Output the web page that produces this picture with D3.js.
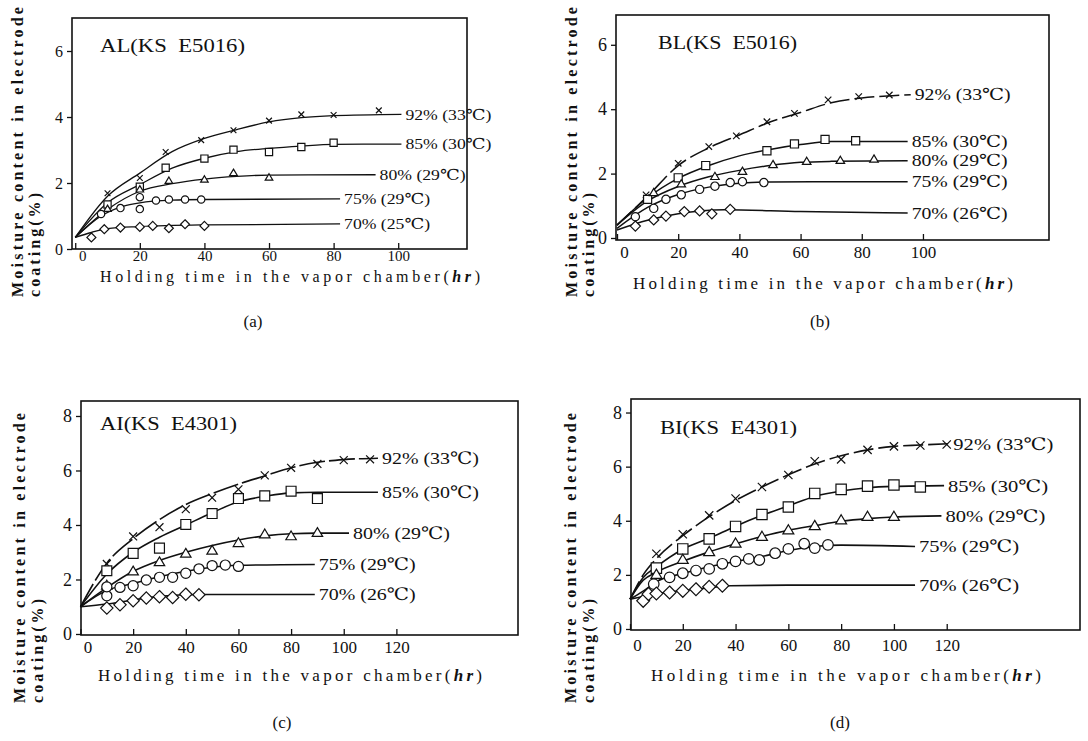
<!DOCTYPE html>
<html>
<head>
<meta charset="utf-8">
<script src="https://cdnjs.cloudflare.com/ajax/libs/d3/7.8.5/d3.min.js"></script>
<style>
  body { margin: 0; background: #fff; }
  svg text { font-family: "Liberation Serif", "DejaVu Serif", serif; fill: #111; }
</style>
</head>
<body>
<svg id="fig" width="1088" height="741"></svg>
<script>
// ---- data ----
const seriesNames  = ['92% (33℃)', '85% (30℃)', '80% (29℃)', '75% (29℃)', '70% (26℃)'];
const seriesNamesA = ['92% (33℃)', '85% (30℃)', '80% (29℃)', '75% (29℃)', '70% (25℃)'];
const panelTitles  = ['AL(KS  E5016)', 'BL(KS  E5016)', 'AI(KS  E4301)', 'BI(KS  E4301)'];
const panelCaptions = ['(a)', '(b)', '(c)', '(d)'];
const xTicksAB = [0, 20, 40, 60, 80, 100];
const xTicksCD = [0, 20, 40, 60, 80, 100, 120];
const yTicksAB = [0, 2, 4, 6];
const yTicksCD = [0, 2, 4, 6, 8];

// fitted curves, one list per series (92, 85, 80, 75, 70 %)
const curvesA = [
  [[0,0.35],[10,1.6],[20,2.3],[30,2.95],[40,3.35],[50,3.62],[60,3.85],[70,3.98],[80,4.04],[101,4.08]],
  [[0,0.35],[10,1.4],[20,1.95],[30,2.45],[40,2.75],[50,2.95],[60,3.05],[70,3.12],[80,3.17],[101,3.18]],
  [[0,0.35],[10,1.2],[20,1.75],[30,1.98],[40,2.12],[50,2.2],[60,2.24],[93,2.25]],
  [[0,0.35],[8,1.0],[15,1.3],[20,1.4],[30,1.48],[40,1.5],[82,1.52]],
  [[0,0.35],[5,0.5],[10,0.62],[20,0.68],[40,0.73],[82,0.76]]
];
const markersA = [
  [[10,1.69],[20,2.15],[28,2.94],[39,3.3],[49,3.6],[60,3.89],[70,4.08],[80,4.06],[94,4.2]],
  [[10,1.35],[20,1.89],[28,2.46],[40,2.74],[49,3.01],[60,2.94],[70,3.09],[80,3.22]],
  [[10,1.21],[20,1.8],[29,2.06],[40,2.1],[49,2.3],[60,2.16]],
  [[8,1.06],[14,1.24],[20,1.21],[20,1.57],[25,1.47],[29,1.5],[34,1.5],[39,1.5]],
  [[5,0.35],[9,0.6],[14,0.65],[20,0.67],[24,0.7],[29,0.63],[34,0.75],[40,0.7]]
];

const curvesB = [
  [[0,0.4],[10,1.3],[20,2.25],[30,2.8],[40,3.2],[50,3.6],[60,3.9],[70,4.2],[80,4.35],[90,4.42],[96,4.45]],
  [[0,0.4],[10,1.25],[20,1.85],[30,2.25],[40,2.55],[50,2.75],[60,2.9],[70,3.0],[95,3.0]],
  [[0,0.4],[10,1.15],[20,1.6],[30,1.9],[40,2.1],[50,2.25],[60,2.35],[70,2.38],[95,2.4]],
  [[0,0.3],[10,0.95],[20,1.35],[30,1.58],[40,1.7],[50,1.74],[95,1.75]],
  [[0,0.25],[10,0.55],[20,0.75],[35,0.88],[60,0.82],[95,0.78]]
];
const markersB = [
  [[9.5,1.34],[20,2.32],[30,2.84],[39,3.17],[49,3.61],[58,3.87],[69,4.29],[79,4.39],[89,4.44]],
  [[10,1.2],[20,1.87],[29,2.25],[49,2.71],[58,2.92],[68,3.06],[78,3.02]],
  [[12,1.4],[21,1.67],[32,1.9],[41,2.06],[51,2.27],[62,2.37],[73,2.4],[84,2.44]],
  [[6,0.66],[12,0.92],[16,1.2],[21,1.34],[27,1.51],[32,1.61],[37,1.72],[41,1.75],[48,1.72]],
  [[6,0.37],[12,0.56],[16,0.68],[22,0.82],[27,0.84],[31,0.75],[37,0.89]]
];

const curvesC = [
  [[0,1.0],[10,2.6],[20,3.5],[30,4.2],[40,4.75],[50,5.15],[60,5.5],[70,5.8],[80,6.1],[90,6.3],[100,6.4],[113,6.45]],
  [[0,1.0],[10,2.2],[20,3.0],[30,3.55],[40,4.0],[50,4.45],[60,4.85],[70,5.05],[80,5.18],[90,5.2],[113,5.2]],
  [[0,1.0],[10,1.7],[20,2.3],[30,2.7],[40,3.0],[50,3.25],[60,3.45],[70,3.6],[80,3.68],[90,3.7],[102,3.7]],
  [[0,1.0],[10,1.6],[20,1.85],[30,2.1],[40,2.3],[50,2.45],[60,2.52],[89,2.55]],
  [[0,1.0],[10,1.1],[20,1.25],[30,1.38],[45,1.45],[89,1.45]]
];
const markersC = [
  [[10,2.57],[20,3.58],[30,3.92],[40,4.58],[50,5.0],[60,5.31],[70,5.82],[80,6.1],[90,6.24],[100,6.38],[110,6.41]],
  [[10,2.32],[20,2.96],[30,3.15],[40,4.02],[50,4.42],[60,4.97],[70,5.07],[80,5.24],[90,4.97]],
  [[10,1.77],[20,2.29],[30,2.63],[40,2.94],[50,3.05],[60,3.33],[70,3.65],[80,3.58],[90,3.7]],
  [[10,1.4],[10,1.73],[15,1.71],[20,1.77],[25,1.98],[30,2.08],[35,2.08],[40,2.23],[45,2.39],[50,2.51],[55,2.53],[60,2.48]],
  [[10,0.95],[15,1.07],[20,1.22],[25,1.32],[30,1.37],[35,1.34],[40,1.46],[45,1.44]]
];

const curvesD = [
  [[0,1.1],[5,2.0],[10,2.6],[20,3.45],[30,4.15],[40,4.75],[50,5.25],[60,5.7],[70,6.1],[80,6.4],[90,6.62],[100,6.75],[110,6.8],[121,6.85]],
  [[0,1.1],[5,1.9],[10,2.3],[20,2.95],[30,3.35],[40,3.8],[50,4.2],[60,4.55],[70,4.9],[80,5.1],[90,5.22],[100,5.27],[119,5.3]],
  [[0,1.1],[5,1.8],[10,2.1],[20,2.5],[30,2.85],[40,3.15],[50,3.42],[60,3.65],[70,3.82],[80,3.98],[90,4.08],[100,4.14],[118,4.18]],
  [[0,1.1],[5,1.4],[10,1.75],[20,2.05],[30,2.3],[40,2.5],[50,2.68],[60,2.9],[70,3.05],[80,3.1],[108,3.05]],
  [[0,1.1],[5,1.2],[10,1.3],[20,1.42],[30,1.52],[38,1.6],[60,1.62],[108,1.62]]
];
const markersD = [
  [[10,2.78],[20,3.5],[30,4.2],[40,4.82],[50,5.25],[60,5.69],[70,6.2],[80,6.27],[90,6.62],[100,6.75],[110,6.78],[120,6.82]],
  [[10,2.25],[20,2.96],[30,3.33],[40,3.79],[50,4.23],[60,4.51],[70,5.01],[80,5.16],[90,5.28],[100,5.32],[110,5.25]],
  [[10,2.0],[20,2.55],[30,2.84],[40,3.15],[50,3.4],[60,3.64],[70,3.8],[80,4.01],[90,4.14],[100,4.14]],
  [[9,1.66],[15,1.91],[20,2.06],[25,2.16],[30,2.22],[35,2.41],[40,2.5],[45,2.59],[49,2.55],[55,2.8],[60,2.96],[66,3.15],[70,2.99],[75,3.11]],
  [[5,1.04],[7,1.29],[10,1.31],[15,1.35],[20,1.41],[25,1.47],[30,1.56],[35,1.6]]
];

// ---- layout of the four panels ----
const panels = [
  { box: [72, 18, 467, 249], xd: [-1, 121.3], yd: [0, 7], xt: xTicksAB, yt: yTicksAB,
    curves: curvesA, marks: markersA, names: seriesNamesA, title: panelTitles[0], cap: panelCaptions[0],
    titlePos: [100, 52, 145], capPos: [253, 327], xlab: [290, 282, 380, 16], ylab: [17, 34, 297],
    tickFont: 15, tickPad: 1, ms: 0.8, lw: 1.3, lab: 15, labLen: 86, dash92: null },
  { box: [616, 15, 1049, 240], xd: [-0.33, 141.2], yd: [-0.062, 6.925], xt: xTicksAB, yt: yTicksAB,
    curves: curvesB, marks: markersB, names: seriesNames, title: panelTitles[1], cap: panelCaptions[1],
    titlePos: [658, 49, 139], capPos: [820, 327], xlab: [823, 289, 380, 17], ylab: [571, 588, 297],
    tickFont: 17, tickPad: 6, ms: 0.9, lw: 1.5, lab: 16.5, labLen: 96, dash92: '20,5' },
  { box: [81, 401, 518, 635], xd: [0.19, 166.2], yd: [-0.037, 8.55], xt: xTicksCD, yt: yTicksCD,
    curves: curvesC, marks: markersC, names: seriesNames, title: panelTitles[2], cap: panelCaptions[2],
    titlePos: [100, 430, 137], capPos: [282, 728], xlab: [290, 681, 384, 17], ylab: [19, 37, 703],
    tickFont: 17, tickPad: 6, ms: 1.1, lw: 1.6, lab: 17, labLen: 97, dash92: '26,4' },
  { box: [631, 399, 1080, 630], xd: [0.38, 170.5], yd: [-0.037, 8.5], xt: xTicksCD, yt: yTicksCD,
    curves: curvesD, marks: markersD, names: seriesNames, title: panelTitles[3], cap: panelCaptions[3],
    titlePos: [660, 434, 137], capPos: [840, 728], xlab: [846, 681, 390, 17], ylab: [570, 588, 703],
    tickFont: 17, tickPad: 9, ms: 1.15, lw: 1.6, lab: 17, labLen: 100, dash92: '20,5' }
];

const svg = d3.select('#fig');

// marker path for each series: cross, square, triangle, circle, diamond
const markerPath = (k, s) => {
  const p = d3.path();
  if (k === 0) {
    const r = 3.6 * s;
    p.moveTo(-r, -r); p.lineTo(r, r); p.moveTo(-r, r); p.lineTo(r, -r);
  } else if (k === 1) {
    const r = 4.5 * s;
    p.rect(-r, -r, 2 * r, 2 * r);
  } else if (k === 2) {
    const r = 5 * s;
    p.moveTo(0, -r); p.lineTo(r * 0.95, r * 0.6); p.lineTo(-r * 0.95, r * 0.6); p.closePath();
  } else if (k === 3) {
    p.arc(0, 0, 4.6 * s, 0, 2 * Math.PI);
  } else {
    const r = 5.6 * s;
    p.moveTo(0, -r); p.lineTo(r, 0); p.lineTo(0, r); p.lineTo(-r, 0); p.closePath();
  }
  return p.toString();
};

panels.forEach((P) => {
  const [x0, y0, x1, y1] = P.box;
  const x = d3.scaleLinear().domain(P.xd).range([x0, x1]);
  const y = d3.scaleLinear().domain(P.yd).range([y1, y0]);
  const g = svg.append('g');

  // frame
  g.append('rect')
    .attr('x', x0).attr('y', y0).attr('width', x1 - x0).attr('height', y1 - y0)
    .attr('fill', 'none').attr('stroke', '#111').attr('stroke-width', 1.6);

  // bottom axis, ticks pointing inward
  const xa = g.append('g')
    .attr('transform', 'translate(0,' + y1 + ')')
    .call(d3.axisBottom(x).tickValues(P.xt).tickFormat(d3.format('d')).tickSize(-6).tickPadding(P.tickPad));
  xa.select('.domain').remove();
  xa.selectAll('.tick line').attr('stroke', '#111').attr('stroke-width', 1.3);
  xa.selectAll('.tick text')
    .style('font-size', P.tickFont + 'px').style('font-family', '"Liberation Serif", serif').attr('fill', '#111')
    .attr('dx', (d) => d === 0 ? 7 : 0);

  // left axis
  const ya = g.append('g')
    .attr('transform', 'translate(' + x0 + ',0)')
    .call(d3.axisLeft(y).tickValues(P.yt).tickFormat(d3.format('d')).tickSize(5).tickPadding(4));
  ya.select('.domain').remove();
  ya.selectAll('.tick line').attr('stroke', '#111').attr('stroke-width', 1.3);
  ya.selectAll('.tick text')
    .style('font-size', (P.tickFont + 1) + 'px').style('font-family', '"Liberation Serif", serif').attr('fill', '#111');

  // curves
  const line = d3.line()
    .x((d) => x(d[0]))
    .y((d) => y(d[1]))
    .curve(d3.curveMonotoneX);

  P.curves.forEach((c, k) => {
    g.append('path')
      .attr('d', line(c))
      .attr('fill', 'none').attr('stroke', '#111').attr('stroke-width', P.lw)
      .attr('stroke-dasharray', k === 0 && P.dash92 ? P.dash92 : null);

    // series label at the end of the curve
    const last = c[c.length - 1];
    g.append('text')
      .attr('x', x(last[0]) + 4).attr('y', y(last[1]))
      .attr('dy', '0.35em')
      .attr('textLength', P.labLen).attr('lengthAdjust', 'spacingAndGlyphs')
      .style('font-size', P.lab + 'px')
      .text(P.names[k]);
  });

  // markers
  P.marks.forEach((m, k) => {
    g.selectAll(null)
      .data(m)
      .enter().append('path')
      .attr('transform', (d) => 'translate(' + x(d[0]) + ',' + y(d[1]) + ')')
      .attr('d', markerPath(k, P.ms))
      .attr('fill', k === 0 ? 'none' : '#fff')
      .attr('stroke', '#111').attr('stroke-width', 1.2);
  });

  // panel title
  g.append('text')
    .attr('x', P.titlePos[0]).attr('y', P.titlePos[1])
    .attr('textLength', P.titlePos[2]).attr('lengthAdjust', 'spacingAndGlyphs')
    .style('font-size', '19px').style('white-space', 'pre')
    .text(P.title);

  // x axis title
  const xt = g.append('text')
    .attr('x', P.xlab[0]).attr('y', P.xlab[1])
    .attr('text-anchor', 'middle')
    .attr('textLength', P.xlab[2]).attr('lengthAdjust', 'spacing')
    .style('font-size', P.xlab[3] + 'px');
  xt.append('tspan').text('Holding time in the vapor chamber(');
  xt.append('tspan').style('font-style', 'italic').style('font-weight', 'bold').text('hr');
  xt.append('tspan').text(')');

  // y axis title, two lines
  g.append('g')
    .attr('transform', 'translate(' + P.ylab[0] + ',' + P.ylab[2] + ') rotate(-90)')
    .append('text')
    .attr('dy', '0.35em')
    .attr('textLength', 290).attr('lengthAdjust', 'spacing')
    .style('font-size', '16px').style('font-weight', 'bold')
    .text('Moisture content in electrode');
  g.append('g')
    .attr('transform', 'translate(' + P.ylab[1] + ',' + P.ylab[2] + ') rotate(-90)')
    .append('text')
    .attr('dy', '0.35em')
    .attr('textLength', 104).attr('lengthAdjust', 'spacing')
    .style('font-size', '16px').style('font-weight', 'bold')
    .text('coating(%)');

  // caption
  g.append('text')
    .attr('x', P.capPos[0]).attr('y', P.capPos[1])
    .attr('text-anchor', 'middle')
    .style('font-size', '17px')
    .text(P.cap);
});
</script>
</body>
</html>
